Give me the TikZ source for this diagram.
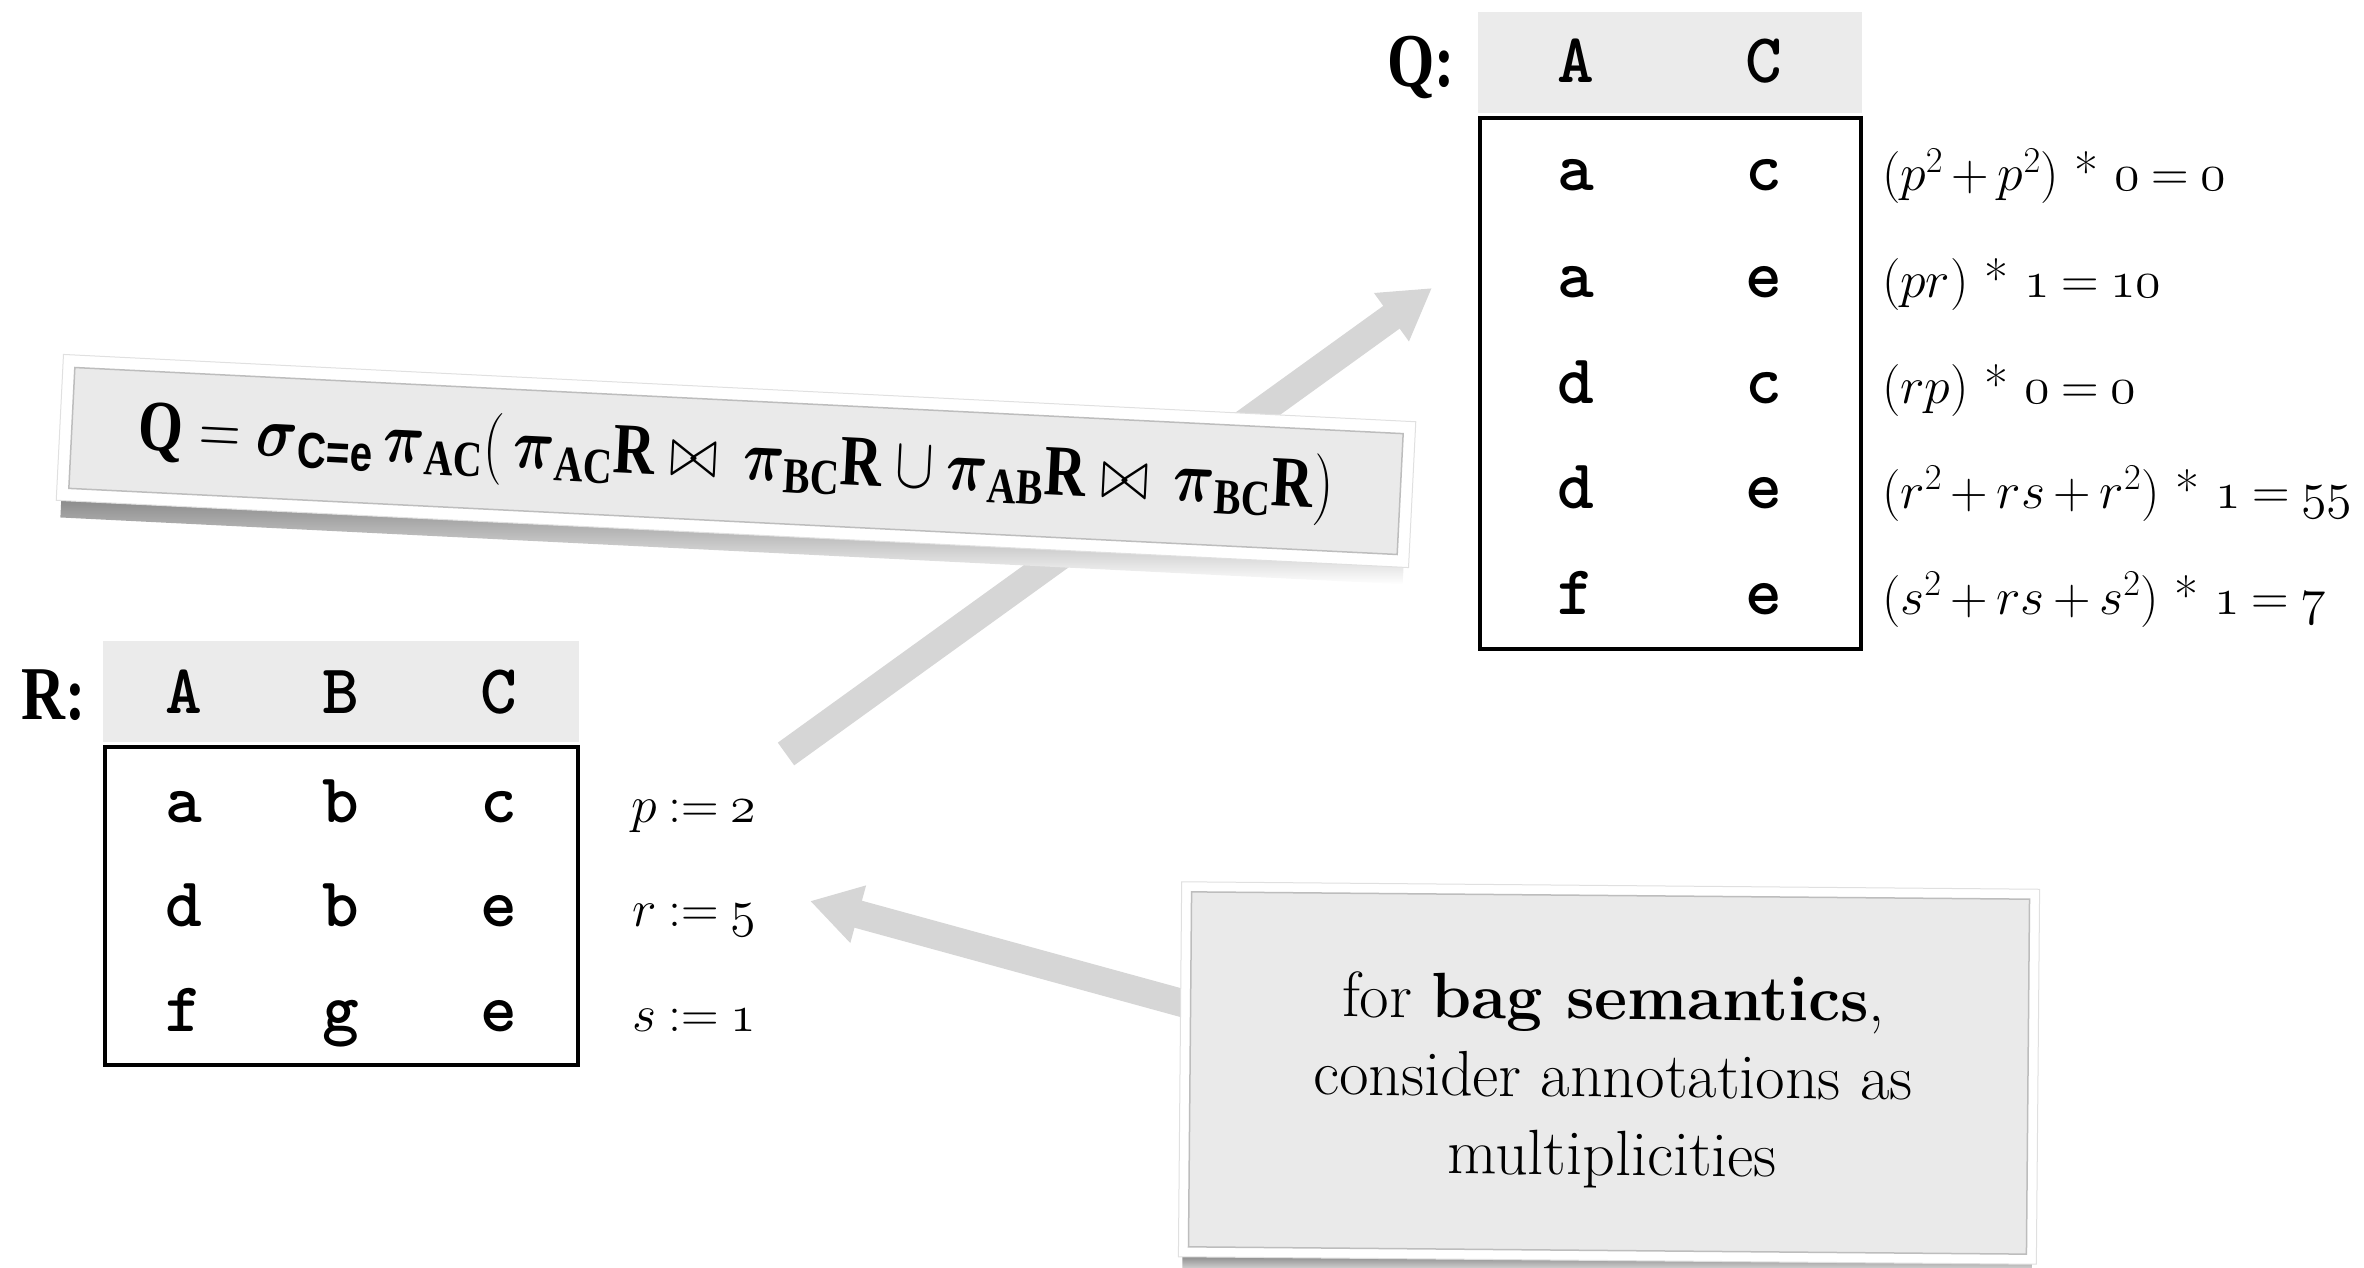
\RequirePackage{fix-cm}
\documentclass[tikz,border=0pt]{standalone}
\usepackage{amsmath}
\usepackage{graphicx}
\usepackage{fontspec}
\usetikzlibrary{arrows.meta}
\newfontfamily\subsans{Liberation Sans}
\newfontfamily\lblserif{Liberation Serif}
% old-style figures from the math italic font
\newcommand\osn[1]{{\usefont{OML}{cmm}{m}{it}#1}}
% heavy upright letters inside the query
\newcommand\hb[1]{\text{\lblserif\bfseries #1}}
% narrower spacing around math operators
\newcommand\tightmath{\thinmuskip=2mu\relax\medmuskip=3mu\relax\thickmuskip=4mu\relax}
\definecolor{hdrgray}{HTML}{EBEBEB}
\definecolor{panelgray}{HTML}{EAEAEA}
\definecolor{paneledge}{HTML}{BDBDBD}
\definecolor{arrowgray}{HTML}{D6D6D6}
\tikzset{
  every node/.style={inner sep=0pt, outer sep=0pt},
  fatarrow/.style={draw=arrowgray, line width=28pt, -{Triangle[width=56pt,length=50pt]}},
  hdrcell/.style={fill=hdrgray},
  tablebox/.style={draw=black, line width=4.5pt},
  tabtext/.style={font=\fontsize{70}{70}\selectfont\ttfamily\bfseries, anchor=base},
  annot/.style={font=\fontsize{52}{60}\selectfont\tightmath, anchor=base west},
  lbl/.style={font=\fontsize{76}{76}\selectfont\lblserif\bfseries, anchor=base east},
  cardframe/.style={fill=white, draw=black!12, line width=1pt},
  cardpanel/.style={fill=panelgray, draw=paneledge, line width=1.5pt},
}
\begin{document}
\begin{tikzpicture}[x=1pt,y=-1pt]
\useasboundingbox (0,0) rectangle (2364,1268);

% ---- arrows (behind the cards) ----
\coordinate (upFrom) at (786,754);
\coordinate (upTo) at (1432,288);
\draw[fatarrow] (upFrom) -- (upTo);
\coordinate (backFrom) at (1215,1012);
\coordinate (backTo) at (810,901);
\draw[fatarrow] (backFrom) -- (backTo);

% ---- query card ----
\begin{scope}[shift={(736,461)}, rotate=-2.85, transform shape]
  \shade[top color=black!45, bottom color=white] (-672,73) rectangle (672,90);
  \node[cardframe, minimum width=1354, minimum height=146] (formulaFrame) at (0,0) {};
  \node[cardpanel, minimum width=1330, minimum height=121,
        font=\fontsize{72}{80}\selectfont] (formula) at (0,0)
    {\scalebox{0.8}[1]{$\hb{Q} = \boldsymbol{\sigma}_{\text{\subsans\bfseries C=e}}\,\boldsymbol{\pi}_{\hb{AC}}(\,\boldsymbol{\pi}_{\hb{AC}}\hb{R}\bowtie\,\boldsymbol{\pi}_{\hb{BC}}\hb{R}\cup\boldsymbol{\pi}_{\hb{AB}}\hb{R}\bowtie\,\boldsymbol{\pi}_{\hb{BC}}\hb{R})$}};
\end{scope}

% ---- note card ----
\begin{scope}[shift={(1609,1073)}, rotate=-0.5, transform shape]
  \shade[top color=black!45, bottom color=white] (-425,187) rectangle (425,200);
  \node[cardframe, minimum width=858, minimum height=375] (bagFrame) at (0,0) {};
  \node[cardpanel, minimum width=838, minimum height=355] (bagPanel) at (0,0) {};
  \node[align=center, font=\fontsize{64}{78}\selectfont] (bagnote) at (4,8)
    {for \textbf{bag semantics},\\consider annotations as\\multiplicities};
\end{scope}

% ---- relation R ----
\node[lbl] (rLabel) at (86,719) {\scalebox{0.8}[1]{R:}};
\node[hdrcell, minimum width=476, minimum height=101] (rHead) at (341,691.5) {};
\node[tablebox, minimum width=473, minimum height=318] (rBody) at (341.5,906) {};
\foreach \x/\c in {184/A,341/B,499/C}
  \node[tabtext] (rh\c) at (\x,713) {\c};
\foreach \y/\a/\b/\c [count=\i] in {822/a/b/c, 926/d/b/e, 1031/f/g/e} {
  \node[tabtext] (r\i A) at (184,\y) {\a};
  \node[tabtext] (r\i B) at (341,\y) {\b};
  \node[tabtext] (r\i C) at (499,\y) {\c};
}
\node[annot, anchor=base] (rAnn1) at (694,822) {$p \mathrel{:=} \mbox{\osn{2}}$};
\node[annot, anchor=base] (rAnn2) at (694,926) {$r \mathrel{:=} \mbox{\osn{5}}$};
\node[annot, anchor=base] (rAnn3) at (694,1031) {$s \mathrel{:=} \mbox{\osn{1}}$};

% ---- result Q ----
\node[lbl] (qLabel) at (1455,87) {\scalebox{0.8}[1]{Q:}};
\node[hdrcell, minimum width=384, minimum height=101] (qHead) at (1670,62.5) {};
\node[tablebox, minimum width=381, minimum height=531] (qBody) at (1670.5,383.5) {};
\node[tabtext] (qhA) at (1576,83) {A};
\node[tabtext] (qhC) at (1764,83) {C};
\foreach \y/\a/\c [count=\i] in {191/a/c, 297/a/e, 403/d/c, 508/d/e, 614/f/e} {
  \node[tabtext] (q\i A) at (1576,\y) {\a};
  \node[tabtext] (q\i C) at (1764,\y) {\c};
}
\node[annot] (qAnn1) at (1882,191) {$(p^{2}+p^{2})\mbox{ * }\mbox{\osn{0}}=\mbox{\osn{0}}$};
\node[annot] (qAnn2) at (1882,297) {$(pr)\mbox{ * }\mbox{\osn{1}}=\mbox{\osn{10}}$};
\node[annot] (qAnn3) at (1882,403) {$(rp)\mbox{ * }\mbox{\osn{0}}=\mbox{\osn{0}}$};
\node[annot] (qAnn4) at (1882,508) {$(r^{2}+rs+r^{2})\mbox{ * }\mbox{\osn{1}}=\mbox{\osn{55}}$};
\node[annot] (qAnn5) at (1882,614) {$(s^{2}+rs+s^{2})\mbox{ * }\mbox{\osn{1}}=\mbox{\osn{7}}$};
\end{tikzpicture}
\end{document}
